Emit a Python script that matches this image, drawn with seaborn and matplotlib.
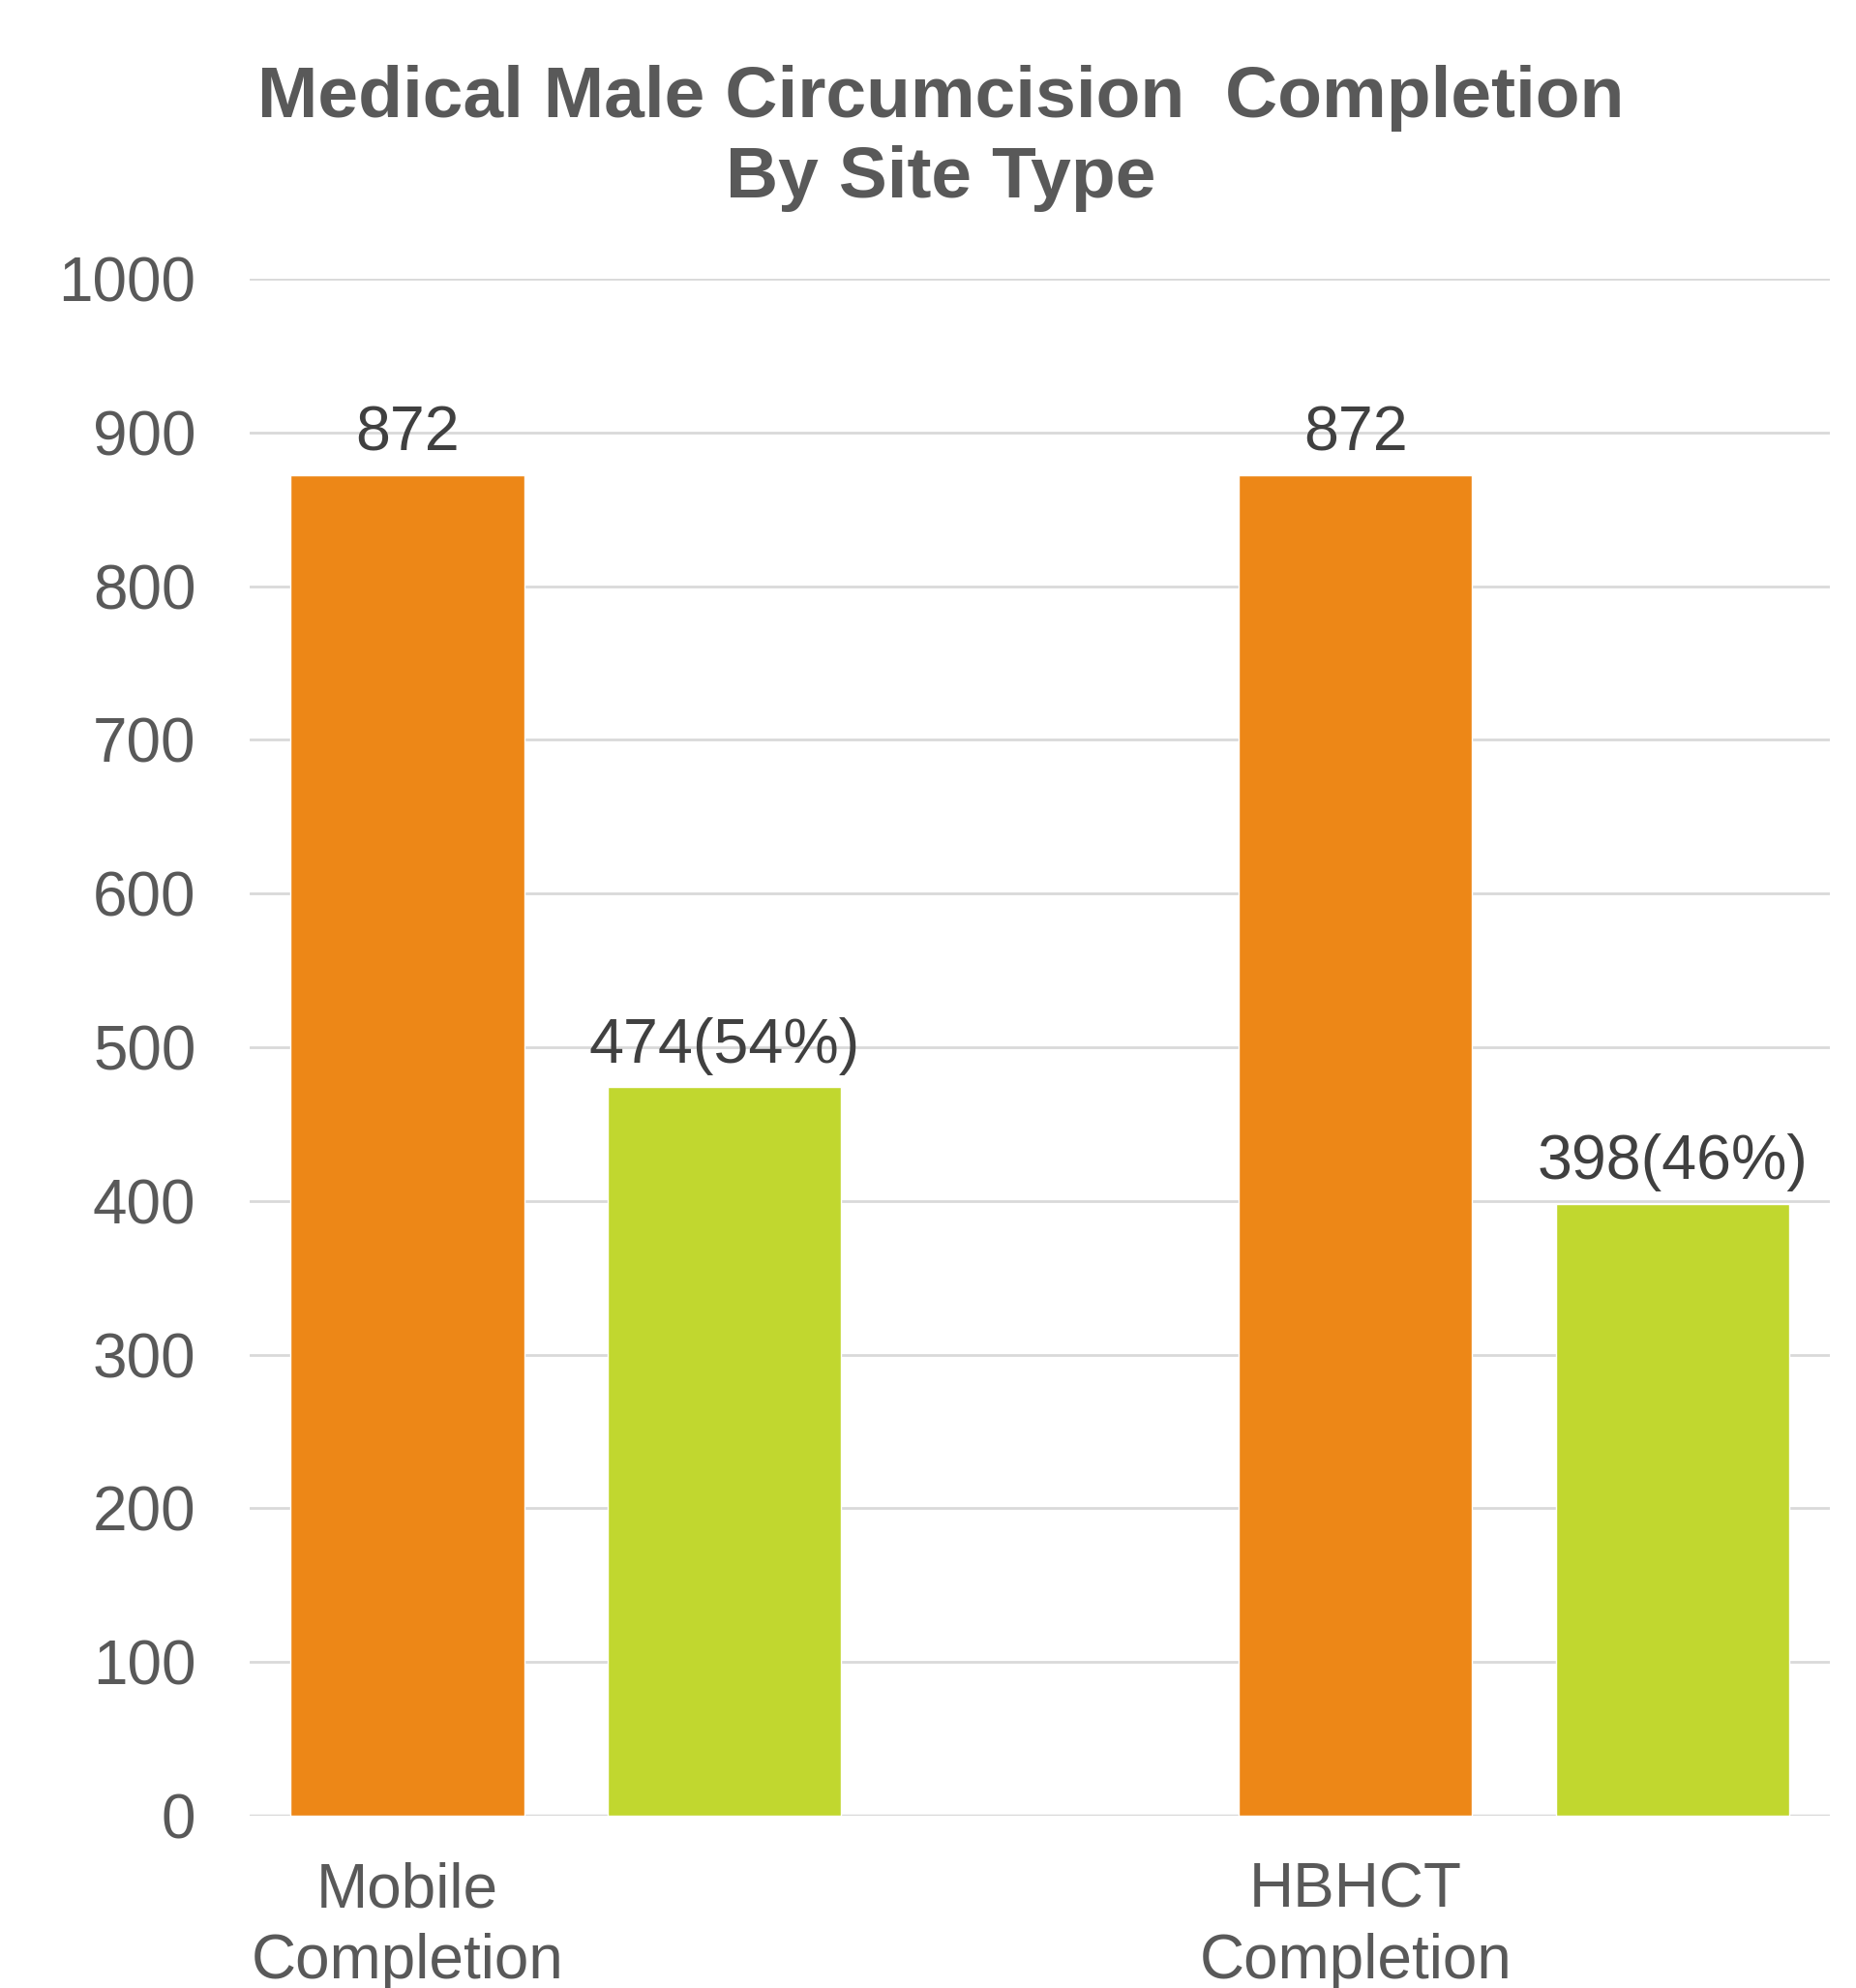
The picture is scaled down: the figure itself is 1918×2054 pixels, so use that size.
import numpy as np
import pandas as pd

import matplotlib
matplotlib.use('Agg')
import matplotlib.pyplot as plt

import seaborn as sns


# chart data
categories = ['Mobile\nCompletion', 'HBHCT\nCompletion']
series_names = ['Total', 'Completed']
total_values = [872, 872]
completed_values = [474, 398]
y_ticks = [0, 100, 200, 300, 400, 500, 600, 700, 800, 900, 1000]

title_text = 'Medical Male Circumcision  Completion\nBy Site Type'

orange = '#ED8717'
green = '#C1D72F'
grey_text = '#595959'
label_text = '#404040'


df = pd.DataFrame({
    'site': categories * 2,
    'series': [series_names[0]] * 2 + [series_names[1]] * 2,
    'value': total_values + completed_values,
})

sns.set_style('white')
plt.rcParams['font.family'] = ['Liberation Sans', 'DejaVu Sans']

fig = plt.figure(figsize=(19.18, 20.54), dpi=100)
ax = fig.add_axes([0.1345, 0.0867, 0.8515, 0.7731])

sns.barplot(data=df, x='site', y='value', hue='series',
            palette=[orange, green], width=0.668, gap=0.263,
            saturation=1, legend=False, ax=ax)

ax.set_xlim(-1 / 3, 4 / 3)
ax.set_ylim(0, 1000)
ax.set_yticks(y_ticks)
ax.yaxis.grid(True, color='#D9D9D9', linewidth=2)
ax.set_axisbelow(True)
sns.despine(ax=ax, left=True, bottom=True)
ax.axhline(0, color='#D9D9D9', linewidth=2.5, zorder=0)

# category labels sit under the first bar of each group, like the original
first_bar_x = [p.get_x() + p.get_width() / 2 for p in ax.containers[0]]
ax.set_xticks(first_bar_x)
ax.set_xticklabels(categories, linespacing=1.3)

ax.tick_params(axis='y', labelsize=46, labelcolor=grey_text, length=0, pad=40)
ax.tick_params(axis='x', labelsize=46, labelcolor=grey_text, length=0, pad=34)
ax.set_xlabel('')
ax.set_ylabel('')

# value labels above the bars
total_labels = [str(v) for v in total_values]
completed_labels = ['%d(%d%%)' % (c, round(100 * c / t))
                    for c, t in zip(completed_values, total_values)]
ax.bar_label(ax.containers[0], labels=total_labels, padding=9,
             fontsize=46.5, color=label_text)
ax.bar_label(ax.containers[1], labels=completed_labels, padding=9,
             fontsize=46.5, color=label_text)

fig.text(0.507, 0.9305, title_text, ha='center', va='center',
         fontsize=54, fontweight='bold', color=grey_text, linespacing=1.26)

plt.savefig('out.png', dpi=100)
plt.close()
